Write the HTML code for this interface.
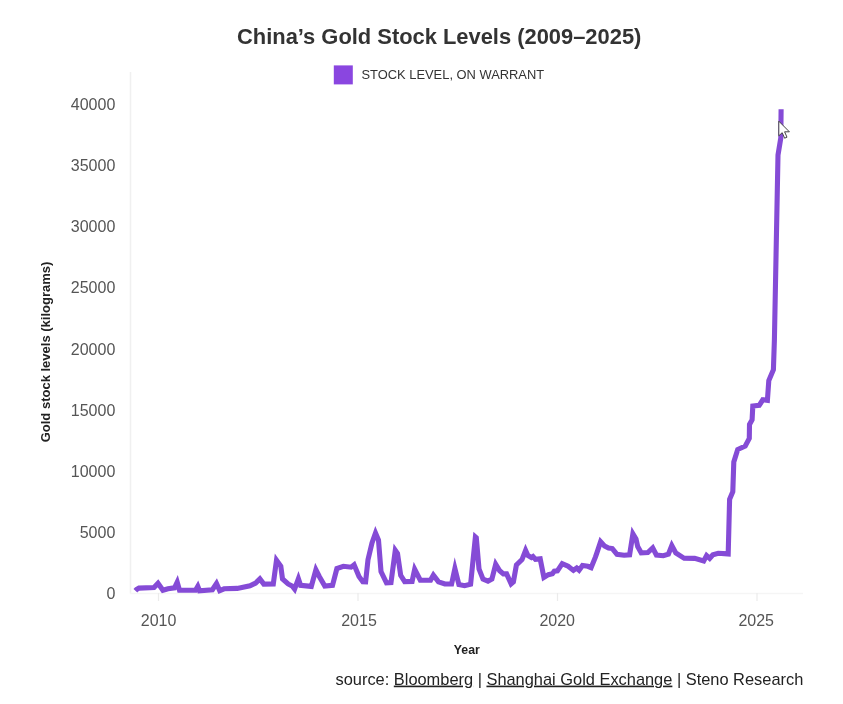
<!DOCTYPE html>
<html lang="en">
<head>
<meta charset="utf-8">
<title>China's Gold Stock Levels (2009–2025)</title>
<style>
html,body{margin:0;padding:0;background:#fff;}
body{width:843px;height:704px;position:relative;overflow:hidden;font-family:"Liberation Sans",sans-serif;}
svg{position:absolute;left:0;top:0;display:block;}
text{font-family:"Liberation Sans",sans-serif;}
.tick{font-size:16px;fill:#555;}
.ytick{text-anchor:end;}
.xtick{text-anchor:middle;}
</style>
</head>
<body>
<svg width="843" height="704" viewBox="0 0 843 704">
  <rect x="0" y="0" width="843" height="704" fill="#ffffff"/>
  <!-- title -->
  <text x="439.2" y="43.9" text-anchor="middle" font-size="21.9" font-weight="bold" fill="#333">China’s Gold Stock Levels (2009–2025)</text>
  <!-- legend -->
  <rect x="333.8" y="65.4" width="19" height="19" fill="#8a46e0"/>
  <text x="361.5" y="79.3" font-size="12.9" fill="#333">STOCK LEVEL, ON WARRANT</text>
  <!-- axes -->
  <line x1="130.5" y1="72" x2="130.5" y2="593.5" stroke="#f0f0f0" stroke-width="1.5"/>
  <line x1="130" y1="593.5" x2="803" y2="593.5" stroke="#f5f5f5" stroke-width="1.5"/>
  <g stroke="#ebebeb" stroke-width="1.2">
    <line x1="158.5" y1="593" x2="158.5" y2="601"/>
    <line x1="358" y1="593" x2="358" y2="601"/>
    <line x1="557.5" y1="593" x2="557.5" y2="601"/>
    <line x1="757" y1="593" x2="757" y2="601"/>
  </g>
  <!-- y ticks -->
  <g class="tick ytick">
    <text x="115.3" y="109.8">40000</text>
    <text x="115.3" y="171.0">35000</text>
    <text x="115.3" y="232.2">30000</text>
    <text x="115.3" y="293.4">25000</text>
    <text x="115.3" y="354.6">20000</text>
    <text x="115.3" y="415.8">15000</text>
    <text x="115.3" y="477.0">10000</text>
    <text x="115.3" y="538.2">5000</text>
    <text x="115.3" y="599.3">0</text>
  </g>
  <!-- x ticks -->
  <g class="tick xtick">
    <text x="158.6" y="625.5">2010</text>
    <text x="359" y="625.5">2015</text>
    <text x="557.2" y="625.5">2020</text>
    <text x="756.2" y="625.5">2025</text>
  </g>
  <!-- axis titles -->
  <text x="466.8" y="654.2" text-anchor="middle" font-size="12.3" font-weight="bold" fill="#222">Year</text>
  <text transform="translate(50,352) rotate(-90)" text-anchor="middle" font-size="13" font-weight="bold" fill="#222">Gold stock levels (kilograms)</text>
  <!-- data line -->
  <path d="M135.4,590.8 L136.5,589.6 L139.0,588.1 L154.0,587.5 L158.0,583.2 L162.9,590.3 L168.0,588.7 L174.5,587.8 L177.2,582.2 L179.5,590.2 L195.5,590.3 L197.8,586.3 L199.5,590.7 L212.4,589.7 L216.5,583.5 L219.7,590.6 L224.1,588.8 L237.2,588.4 L250.0,585.8 L255.6,583.1 L259.9,578.9 L263.8,584.1 L273.3,583.9 L276.5,560.2 L280.8,566.2 L282.5,578.9 L288.1,584.0 L292.1,586.0 L294.6,589.1 L298.4,578.7 L300.6,585.3 L311.3,586.4 L315.9,569.8 L319.3,576.5 L324.8,586.1 L332.5,585.4 L336.9,568.5 L343.4,566.3 L351.1,567.2 L354.1,564.8 L359.0,576.6 L362.8,581.7 L365.6,581.8 L368.0,559.7 L372.0,542.9 L375.5,533.0 L378.5,540.2 L381.0,571.5 L386.5,582.8 L391.0,582.6 L395.3,550.3 L397.5,553.4 L400.7,575.3 L404.7,581.6 L412.1,581.4 L414.7,569.3 L420.3,580.2 L430.6,580.1 L433.4,575.1 L438.5,581.8 L444.9,584.0 L451.6,584.0 L454.9,568.6 L458.9,584.6 L464.6,585.7 L470.6,584.2 L475.4,537.0 L476.3,537.8 L479.0,568.8 L483.0,579.1 L488.0,581.1 L491.9,579.1 L495.7,564.3 L499.7,570.8 L503.4,573.9 L506.6,573.9 L511.1,583.8 L513.4,581.8 L516.4,565.0 L522.0,559.6 L525.6,550.3 L527.9,555.5 L531.4,557.5 L533.0,556.5 L535.5,559.4 L540.2,558.9 L543.9,577.5 L548.4,574.7 L552.4,573.8 L554.3,571.2 L557.4,570.8 L562.2,563.6 L568.1,566.3 L573.4,570.4 L576.7,568.0 L579.1,570.2 L582.5,565.5 L587.8,566.3 L591.1,567.6 L595.5,556.9 L596.8,553.1 L600.6,541.7 L604.5,545.9 L608.6,548.0 L612.3,548.6 L617.0,554.3 L624.1,555.3 L629.6,554.8 L632.9,533.8 L636.0,539.0 L637.7,546.6 L641.2,552.8 L647.8,552.5 L652.7,547.9 L656.4,555.0 L663.3,555.7 L668.4,554.2 L671.8,545.6 L675.8,553.0 L684.2,558.3 L694.7,558.4 L703.7,560.9 L706.6,555.5 L709.7,558.3 L712.9,554.7 L718.2,553.2 L728.2,553.9 L729.6,499.4 L732.8,491.6 L733.8,461.9 L737.7,449.5 L745.2,446.1 L749.3,438.4 L749.5,424.4 L752.1,419.7 L752.8,406.0 L759.2,405.4 L762.8,399.8 L767.4,400.4 L768.8,380.6 L773.4,369.7 L774.4,340.0 L778.0,155.0 L780.8,138.0 L781.1,109.3" fill="none" stroke="#854bd6" stroke-width="5.1" stroke-linejoin="miter" stroke-miterlimit="10" stroke-linecap="butt"/>
  <!-- cursor -->
  <g transform="translate(778.8,121.2)">
    <path d="M0,0 L0,14.6 L3.4,11.5 L5.8,17 L8.2,16 L5.8,10.6 L10.6,10.6 Z" fill="#ffffff" stroke="#444" stroke-width="1" stroke-linejoin="round"/>
  </g>
  <!-- source -->
  <text x="335.5" y="684.6" font-size="16.4" fill="#222">source: <tspan text-decoration="underline">Bloomberg</tspan> | <tspan text-decoration="underline">Shanghai Gold Exchange</tspan> | Steno Research</text>
</svg>
</body>
</html>
